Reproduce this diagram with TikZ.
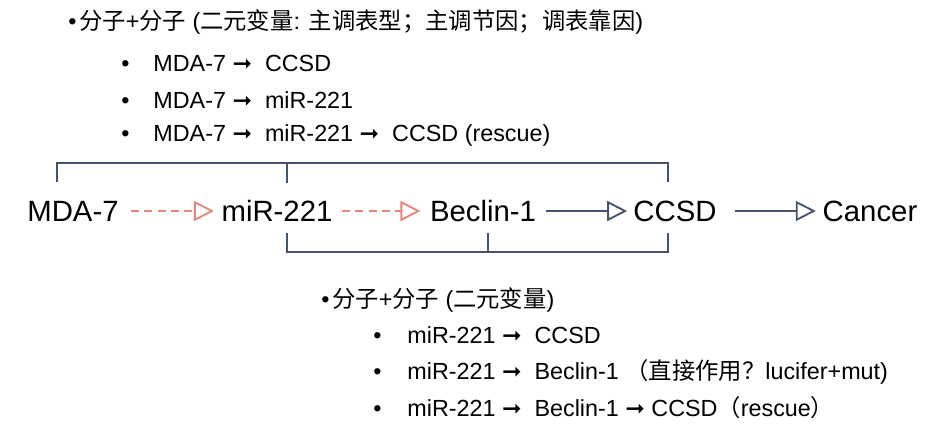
\documentclass[tikz,border=0pt]{standalone}
\usepackage{fontspec}
\setmainfont{Liberation Sans}
\newfontfamily\cjk{Noto Sans CJK SC}
\newfontfamily\symfont{DejaVu Sans}
\usetikzlibrary{arrows.meta}
\definecolor{slate}{HTML}{44546A}
\definecolor{salmon}{HTML}{E8867C}
\newcommand{\hra}{{\symfont\bfseries ➞}}

\begin{document}
\begin{tikzpicture}[x=0.75pt, y=-0.75pt, font=\fontsize{17.5}{21}\selectfont,
    mol/.style={font=\fontsize{22}{26}\selectfont, inner sep=0pt},
    item/.style={anchor=west, inner sep=0pt},
    tip/.style={-{Triangle[open, length=15pt, width=15pt]}},
    dasharr/.style={tip, draw=salmon, line width=1.4pt, dash pattern=on 6pt off 4pt},
    solarr/.style={tip, draw=slate, line width=1.4pt},
    brack/.style={draw=slate, line width=1.7pt}]
  \useasboundingbox (0,0) rectangle (948,444);

  % upper list
  \node[item] (h1) at (68,22) {•\hspace{2pt}{\cjk 分子}+{\cjk 分子} ({\cjk 二元变量}: {\cjk 主调表型；主调节因；调表靠因})};
  \node[item] (a1) at (121,63) {•\hspace{18pt}MDA-7 \hra\ \ CCSD};
  \node[item] (a2) at (121,100) {•\hspace{18pt}MDA-7 \hra\ \ miR-221};
  \node[item] (a3) at (121,135) {•\hspace{18pt}MDA-7 \hra\ \ miR-221 \hra\ \ CCSD (rescue)};

  % main chain
  \node[mol] (mda) at (73,211) {MDA-7};
  \node[mol] (mir) at (277,211) {miR-221};
  \node[mol] (bec) at (483,211) {Beclin-1};
  \node[mol] (ccsd) at (675,211) {CCSD};
  \node[mol] (can) at (870,211) {Cancer};
  \draw[dasharr, shorten <=9pt, shorten >=5.5pt] (mda) -- (mir);
  \draw[dasharr, shorten <=7pt, shorten >=7pt] (mir) -- (bec);
  \draw[solarr, shorten <=7.5pt, shorten >=4.5pt] (bec) -- (ccsd);
  \draw[solarr, shorten <=13.5pt, shorten >=5pt] (ccsd) -- (can);

  % brackets
  \draw[brack] (57,182) |- (668,163) -- (668,182);
  \draw[brack] (287,163) -- (287,183);
  \draw[brack] (287,233) |- (668,252) -- (668,233);
  \draw[brack] (488,252) -- (488,233);

  % lower list
  \node[item] (h2) at (321,300) {•\hspace{2pt}{\cjk 分子}+{\cjk 分子} ({\cjk 二元变量})};
  \node[item] (b1) at (373,335) {•\hspace{19.5pt}miR-221 \hra\ \ CCSD};
  \node[item] (b2) at (373,372) {•\hspace{19.5pt}miR-221 \hra\ \ Beclin-1 {\cjk （直接作用？}lucifer+mut)};
  \node[item] (b3) at (373,408) {•\hspace{19.5pt}miR-221 \hra\ \ Beclin-1 \hra\ CCSD{\cjk （}rescue{\cjk ）}};
\end{tikzpicture}
\end{document}
